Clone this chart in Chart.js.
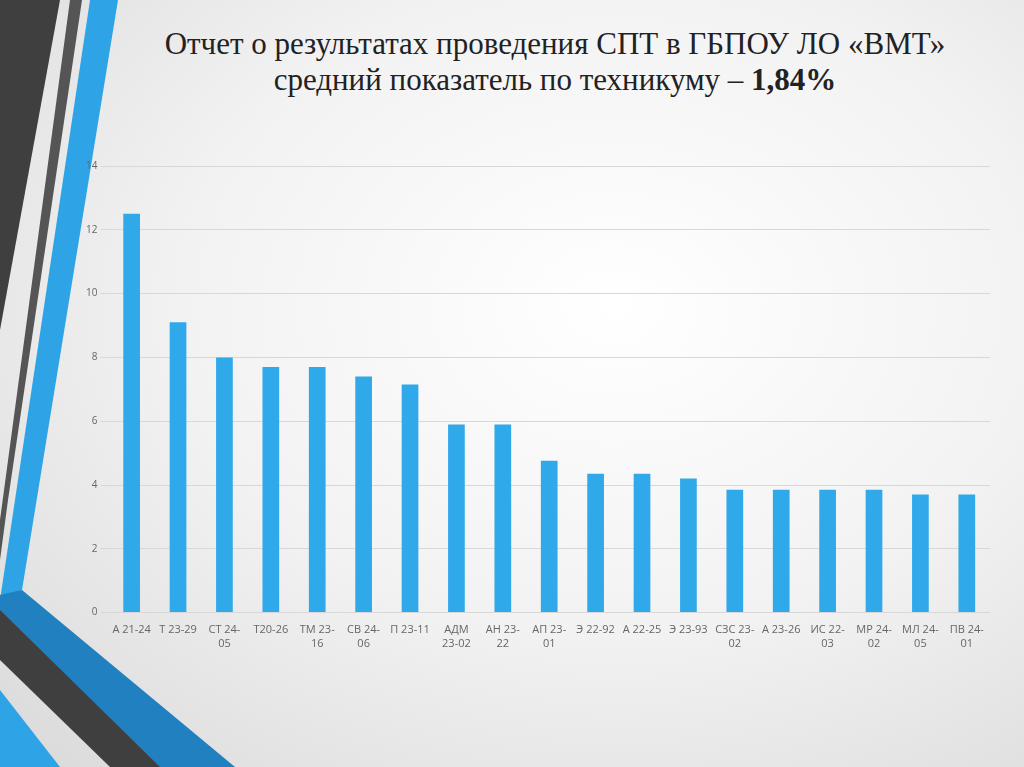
<!DOCTYPE html>
<html><head><meta charset="utf-8">
<script src="https://cdn.jsdelivr.net/npm/chart.js@4"></script>
<style>
html,body{margin:0;padding:0;width:1024px;height:767px;overflow:hidden;}
body{background:radial-gradient(ellipse at 60% 40%,#ffffff 0%,#f2f2f2 50%,#d9d9d9 100%);position:relative;font-family:"Liberation Serif",serif;}
.s{position:absolute;}
#title{position:absolute;left:120px;width:870px;top:26px;text-align:center;font-size:31px;line-height:36px;color:#222;}
#wrap{position:absolute;left:83px;top:157px;width:917px;height:496px;}
</style></head><body>
<svg class="s" width="1024" height="767" style="left:0;top:0">
<polygon points="0,0 60,0 0,330" fill="#3f3f3f"/>
<polygon points="70,0 82,0 8,500 0,560 0,520" fill="#555"/>
<polygon points="90,0 118,0 22,590 0,600" fill="#2ea3e5"/>
<polygon points="0,595 22,590 235,767 120,767 0,640" fill="#2080c0"/>
<polygon points="0,610 0,660 110,767 160,767" fill="#3f3f3f"/>
<polygon points="0,690 0,767 60,767" fill="#2ea3e5"/>
</svg>
<div id="title">Отчет о результатах проведения СПТ в ГБПОУ ЛО «ВМТ»<br>средний показатель по техникуму – <b>1,84%</b></div>
<div id="wrap"><canvas id="c"></canvas></div>
<script>
const categories=[["А 21-24"],["Т 23-29"],["СТ 24-","05"],["Т20-26"],["ТМ 23-","16"],["СВ 24-","06"],["П 23-11"],["АДМ","23-02"],["АН 23-","22"],["АП 23-","01"],["Э 22-92"],["А 22-25"],["Э 23-93"],["СЗС 23-","02"],["А 23-26"],["ИС 22-","03"],["МР 24-","02"],["МЛ 24-","05"],["ПВ 24-","01"]];
const values=[12.5,9.1,8.0,7.7,7.7,7.4,7.15,5.9,5.9,4.76,4.35,4.35,4.2,3.85,3.85,3.85,3.85,3.7,3.7];
const yTicks={min:0,max:14,step:2};
new Chart(document.getElementById('c'),{type:'bar',
data:{labels:categories,datasets:[{data:values,backgroundColor:'#30a9ea',barPercentage:0.36,categoryPercentage:1}]},
options:{responsive:true,maintainAspectRatio:false,animation:false,
layout:{padding:{right:10}},
plugins:{legend:{display:false},tooltip:{enabled:false}},
scales:{x:{grid:{display:false},border:{display:false},ticks:{color:'#666',font:{family:'Open Sans',size:11},maxRotation:0,autoSkip:false}},
y:{min:yTicks.min,max:yTicks.max,ticks:{stepSize:yTicks.step,color:'#666',font:{family:'Open Sans',size:10}},grid:{color:'#d8d8d8'},border:{display:false}}}}});
</script></body></html>
